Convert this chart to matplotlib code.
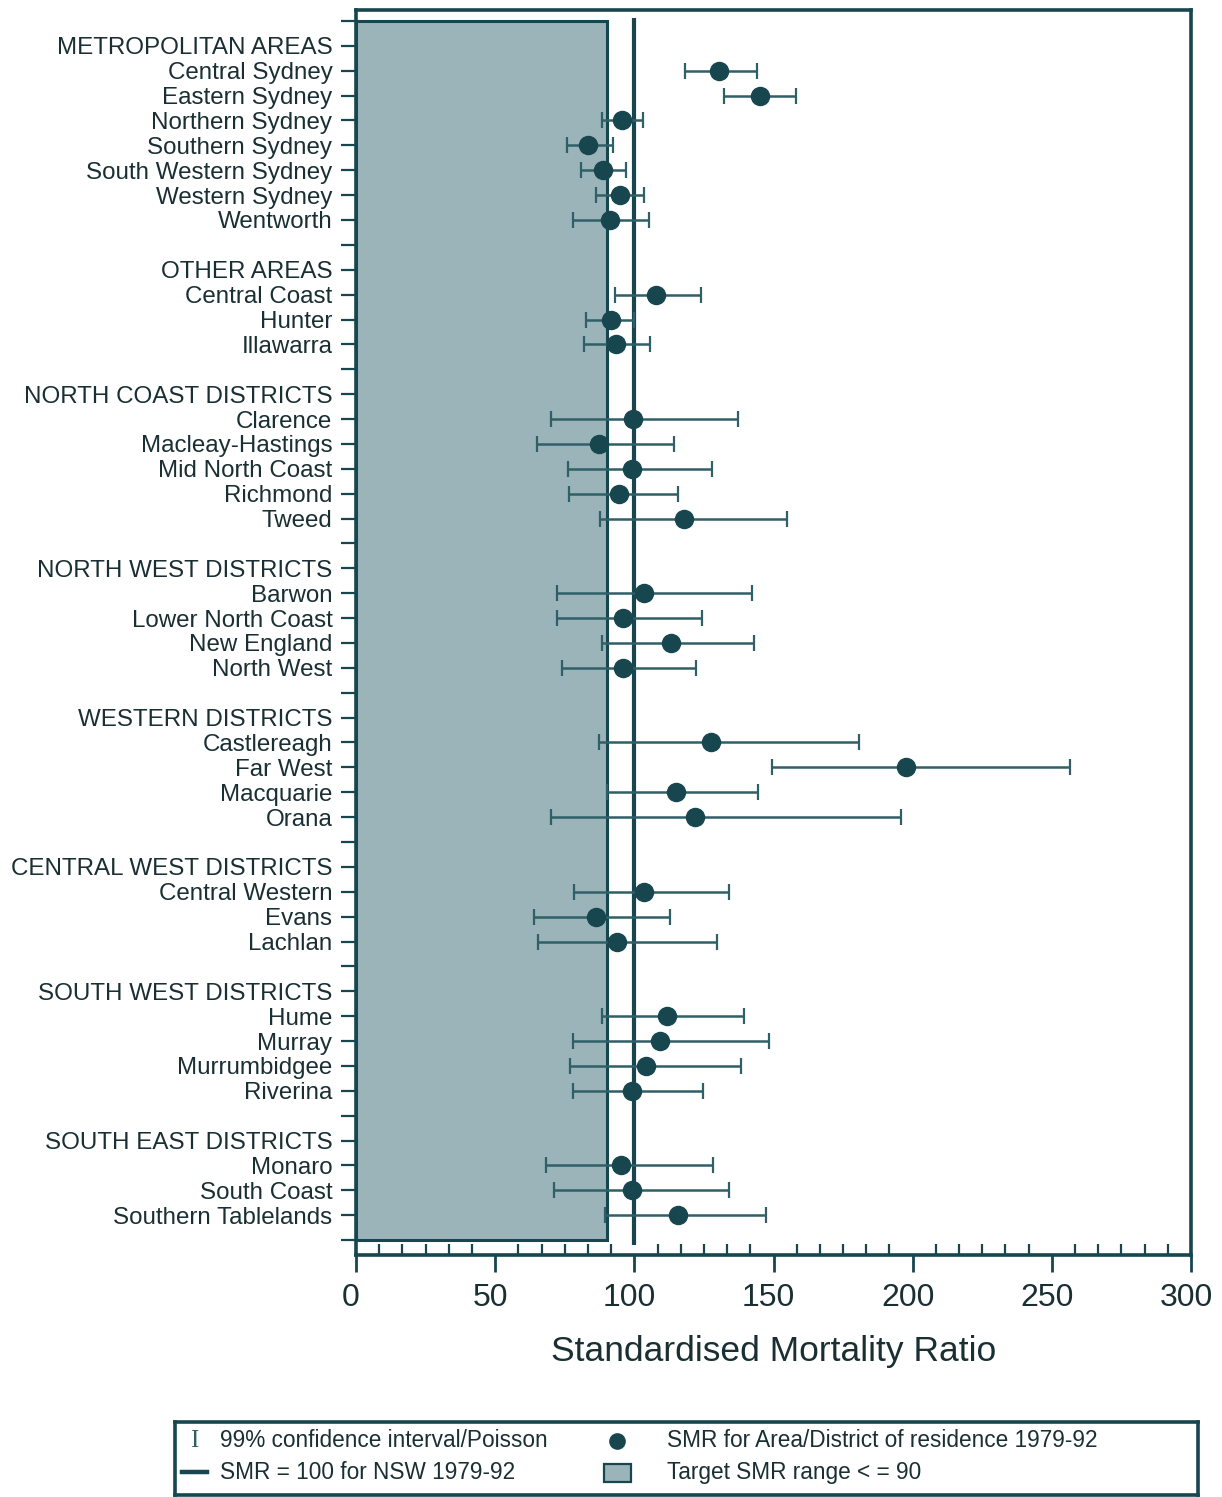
import matplotlib
matplotlib.use("Agg")
import matplotlib.pyplot as plt
from matplotlib.ticker import MultipleLocator, FixedLocator
from matplotlib.patches import Rectangle
from matplotlib.transforms import ScaledTranslation
import numpy as np

plt.rcParams['font.family'] = ['Liberation Sans', 'DejaVu Sans']

# ---- data ----
row_labels = [
    "",
    "METROPOLITAN AREAS", "Central Sydney", "Eastern Sydney", "Northern Sydney",
    "Southern Sydney", "South Western Sydney", "Western Sydney", "Wentworth",
    "",
    "OTHER AREAS", "Central Coast", "Hunter", "Illawarra",
    "",
    "NORTH COAST DISTRICTS", "Clarence", "Macleay-Hastings", "Mid North Coast",
    "Richmond", "Tweed",
    "",
    "NORTH WEST DISTRICTS", "Barwon", "Lower North Coast", "New England", "North West",
    "",
    "WESTERN DISTRICTS", "Castlereagh", "Far West", "Macquarie", "Orana",
    "",
    "CENTRAL WEST DISTRICTS", "Central Western", "Evans", "Lachlan",
    "",
    "SOUTH WEST DISTRICTS", "Hume", "Murray", "Murrumbidgee", "Riverina",
    "",
    "SOUTH EAST DISTRICTS", "Monaro", "South Coast", "Southern Tablelands",
    "",
]

areas = [
    "Central Sydney", "Eastern Sydney", "Northern Sydney", "Southern Sydney",
    "South Western Sydney", "Western Sydney", "Wentworth",
    "Central Coast", "Hunter", "Illawarra",
    "Clarence", "Macleay-Hastings", "Mid North Coast", "Richmond", "Tweed",
    "Barwon", "Lower North Coast", "New England", "North West",
    "Castlereagh", "Far West", "Macquarie", "Orana",
    "Central Western", "Evans", "Lachlan",
    "Hume", "Murray", "Murrumbidgee", "Riverina",
    "Monaro", "South Coast", "Southern Tablelands",
]
smr = [130.5, 145.0, 95.6, 83.5, 88.8, 94.9, 91.1,
       107.8, 91.6, 93.4,
       99.5, 87.3, 99.2, 94.5, 117.9,
       103.3, 95.8, 113.3, 96.1,
       127.7, 197.6, 114.9, 121.8,
       103.5, 86.2, 93.8,
       111.7, 109.2, 104.2, 99.2,
       95.2, 99.2, 115.7]
ci_low = [118.3, 132.1, 88.5, 75.9, 80.9, 86.1, 77.9,
          93.0, 82.6, 81.9,
          70.0, 65.0, 76.2, 76.5, 87.7,
          72.3, 72.3, 88.3, 74.1,
          87.3, 149.5, 90.2, 70.0,
          78.3, 64.0, 65.4,
          88.4, 78.0, 76.9, 78.0,
          68.3, 71.1, 89.5]
ci_high = [143.9, 158.1, 103.0, 92.2, 97.1, 103.6, 105.2,
           124.0, 99.9, 105.6,
           137.3, 114.3, 127.9, 115.7, 154.9,
           142.3, 124.3, 142.9, 122.3,
           180.7, 256.4, 144.6, 195.7,
           134.0, 112.8, 129.7,
           139.4, 148.4, 138.3, 124.7,
           128.3, 134.0, 147.3]
target_smr = 90
nsw_smr = 100
x_ticks = [0, 50, 100, 150, 200, 250, 300]

# ---- styling ----
DARK = '#17464f'
BAR = '#2f5f67'
FILL = '#9ab4ba'
TEXT = '#1a2f33'

W, H = 1222, 1497
fig = plt.figure(figsize=(W / 100, H / 100), dpi=100)
ax = fig.add_axes([356 / W, 1 - 1255 / H, 835 / W, 1245 / H])

ypos = {lab: i for i, lab in enumerate(row_labels) if lab}
y = np.array([ypos[a] for a in areas], dtype=float)
smr_a = np.array(smr)
lo = smr_a - np.array(ci_low)
hi = np.array(ci_high) - smr_a

n = len(row_labels)
# target region
ax.add_patch(Rectangle((0, 0), target_smr, n - 1, facecolor=FILL,
                       edgecolor=DARK, linewidth=2.2, zorder=1))
# NSW reference line
ax.plot([nsw_smr, nsw_smr], [-0.1, n - 0.8], color=DARK, lw=3.0, zorder=2,
        solid_capstyle='butt')

ax.errorbar(smr_a, y, xerr=[lo, hi], fmt='o', color=DARK, ecolor=BAR,
            elinewidth=1.8, capsize=5.5, capthick=1.6, markersize=13,
            zorder=4)

ax.set_xlim(0, 300)
ax.set_ylim(n - 0.4, -0.44)

ax.xaxis.set_major_locator(FixedLocator(x_ticks))
ax.xaxis.set_minor_locator(MultipleLocator(50 / 6))
ax.tick_params(axis='x', which='major', direction='out', length=12, width=2,
               color=DARK, labelsize=23, labelcolor=TEXT, pad=8)
ax.tick_params(axis='x', which='minor', direction='in', length=8, width=1.6,
               color=DARK)
shift = ScaledTranslation(-5 / 100, 0, fig.dpi_scale_trans)
for lab in ax.get_xticklabels():
    lab.set_transform(lab.get_transform() + shift)
ax.set_yticks(range(n))
ax.set_yticklabels(row_labels)
ax.tick_params(axis='y', which='major', direction='out', length=11, width=1.6,
               color=DARK, labelsize=17.4, labelcolor=TEXT, pad=6)

for s in ax.spines.values():
    s.set_color(DARK)
    s.set_linewidth(2.6)

ax.set_xlabel("Standardised Mortality Ratio", fontsize=25.5, color=TEXT,
              labelpad=16)

# ---- legend box ----
lax = fig.add_axes([175 / W, 2 / H, 1023 / W, 73 / H])
lax.set_xlim(0, 1)
lax.set_ylim(0, 1)
lax.set_xticks([])
lax.set_yticks([])
for s in lax.spines.values():
    s.set_color(DARK)
    s.set_linewidth(2.6)
r1, r2 = 0.74, 0.31
lax.text(0.019, r1, "I", family=['Liberation Serif', 'DejaVu Serif'],
         fontsize=18, color=BAR, ha='center', va='center')
lax.text(0.044, r1, "99% confidence interval/Poisson", fontsize=16.3,
         color=TEXT, va='center')
lax.plot([0.007, 0.031], [r2, r2], color=DARK, lw=3.2)
lax.text(0.044, r2, "SMR = 100 for NSW 1979-92", fontsize=16.3,
         color=TEXT, va='center')
lax.plot([0.432], [r1], 'o', color=DARK, markersize=11)
lax.text(0.481, r1, "SMR for Area/District of residence 1979-92", fontsize=16.3,
         color=TEXT, va='center')
lax.add_patch(Rectangle((0.419, r2 - 0.13), 0.027, 0.24, facecolor=FILL,
                        edgecolor=DARK, linewidth=1.6))
lax.text(0.481, r2, "Target SMR range < = 90", fontsize=16.3,
         color=TEXT, va='center')

fig.savefig("out.png", dpi=100)
